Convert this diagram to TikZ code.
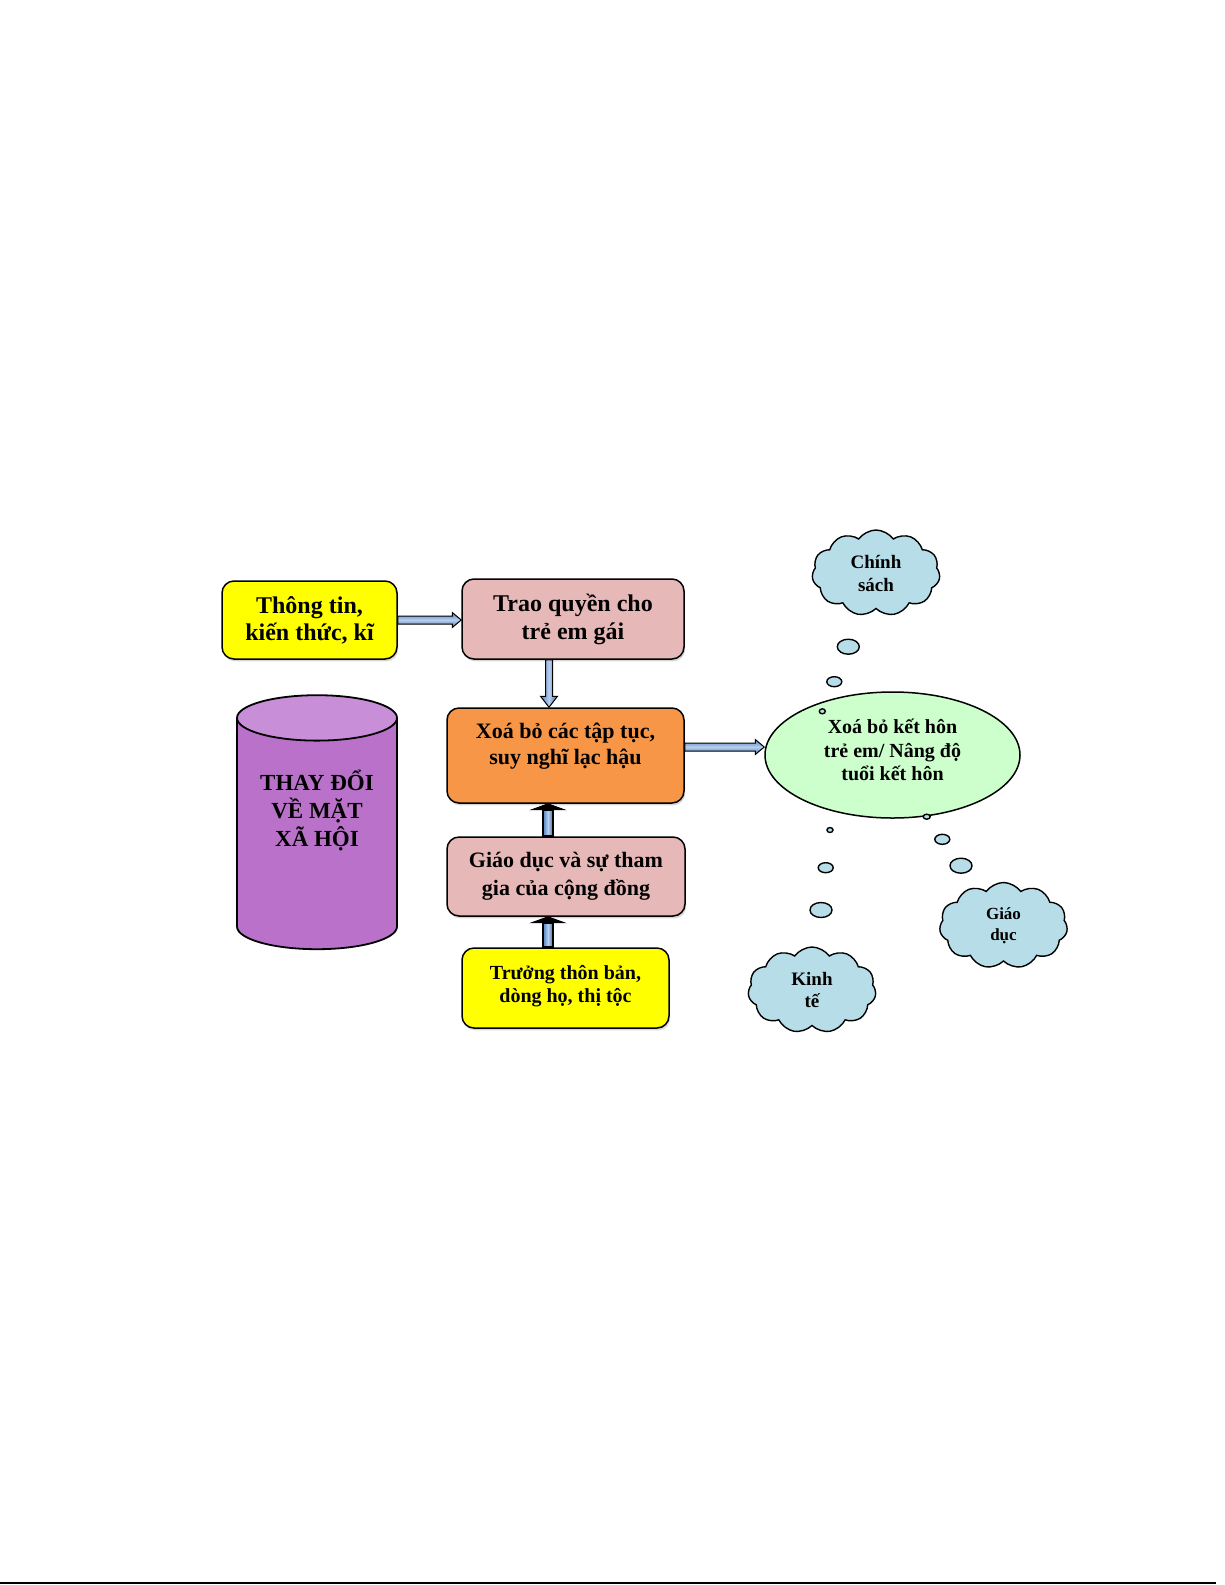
\documentclass[tikz,border=0pt]{standalone}
\usepackage{fontspec}
\setmainfont{Liberation Serif}
\usetikzlibrary{shapes.geometric,shapes.symbols,calc,shadows}

\definecolor{ttyellow}{HTML}{FFFF00}
\definecolor{ttpink}{HTML}{E6B9B8}
\definecolor{ttorange}{HTML}{F79646}
\definecolor{ttgreen}{HTML}{CCFFCC}
\definecolor{ttcloud}{HTML}{B7DEE8}
\definecolor{ttpurple}{HTML}{B971C9}
\definecolor{ttlilac}{HTML}{C98ED8}
\definecolor{ttblue}{HTML}{4F81BD}
\definecolor{ttlight}{HTML}{B8CFEE}

\begin{document}
\begin{tikzpicture}[x=0.5pt, y=-0.5pt,
    box/.style={draw, line width=0.75pt, rounded corners=6pt, align=center, inner sep=0pt,
      drop shadow={shadow xshift=0.6pt, shadow yshift=-1.2pt, opacity=0.3}},
    puff/.style={cloud, cloud puffs=11, cloud puff arc=110, cloud ignores aspect,
      minimum width=64pt, minimum height=43pt, inner sep=0pt, draw, line width=0.7pt,
      fill=ttcloud, align=center},
    bubble/.style={draw, line width=0.7pt, fill=ttcloud},
    bshaft/.store in=\bsh, bhead/.store in=\bhd, blen/.store in=\bln,
    bshaft=2pt, bhead=3.75pt, blen=4.5pt,
    alongarrow/.style={shift={(\tikztostart)}, rotate=\n2},
    bmeasure/.style={to path={let \p1=($(\tikztotarget)-(\tikztostart)$),
      \n1={veclen(\x1,\y1)}, \n2={atan2(\y1,\x1)} in #1}},
    bwhole/.style={bmeasure={([alongarrow]0pt,-\bsh) -- ([alongarrow]\n1-\bln,-\bsh)
      -- ([alongarrow]\n1-\bln,-\bhd) -- ([alongarrow]\n1,0pt) -- ([alongarrow]\n1-\bln,\bhd)
      -- ([alongarrow]\n1-\bln,\bsh) -- ([alongarrow]0pt,\bsh) -- cycle}},
    bstem/.style={bmeasure={([alongarrow]0pt,-\bsh) -- ([alongarrow]\n1-\bln,-\bsh)
      -- ([alongarrow]\n1-\bln,\bsh) -- ([alongarrow]0pt,\bsh) -- cycle}},
    bcap/.style={bmeasure={([alongarrow]\n1-\bln,-\bhd) -- ([alongarrow]\n1,0pt)
      -- ([alongarrow]\n1-\bln,\bhd) -- cycle}},
    harrow/.style={bwhole, draw=black, line width=0.5pt, line join=miter,
      top color=ttblue, bottom color=ttblue!85!black, middle color=ttlight},
    varrow/.style={bwhole, bshaft=1.75pt, bhead=4.25pt, blen=5.5pt, draw=black,
      line width=0.5pt, line join=miter, left color=ttblue,
      right color=ttblue!85!black, middle color=ttlight},
    upstem/.style={bstem, bshaft=2.5pt, blen=3pt, draw=black, line width=1pt,
      left color=ttblue, right color=ttblue!85!black, middle color=ttlight},
    uphead/.style={bcap, bhead=8.25pt, blen=3pt, fill=black}
  ]
  \fill[white] (0,0) rectangle (1225,1585);
  \useasboundingbox (0,0) rectangle (1225,1585);

  \node[box, fill=ttyellow, minimum width=87.5pt, minimum height=39pt,
    font=\bfseries\fontsize{12}{13.5}\selectfont] (thong) at (309.5,620)
    {Thông tin,\\kiến thức, kĩ};
  \node[box, fill=ttpink, minimum width=111pt, minimum height=40pt,
    font=\bfseries\fontsize{12}{14}\selectfont] (trao) at (573,619)
    {Trao quyền cho\\trẻ em gái};
  \node[box, fill=ttorange, minimum width=118.5pt, minimum height=47.5pt, text depth=12pt,
    font=\bfseries\fontsize{11}{13}\selectfont] (xoa) at (565.5,755.5)
    {Xoá bỏ các tập tục,\\suy nghĩ lạc hậu};
  \node[box, fill=ttpink, minimum width=119pt, minimum height=39.5pt,
    font=\bfseries\fontsize{11}{14}\selectfont] (giao) at (566,876.5)
    {Giáo dục và sự tham\\gia của cộng đồng};
  \node[box, fill=ttyellow, minimum width=103.5pt, minimum height=40pt, text depth=4pt,
    font=\bfseries\fontsize{10}{11.5}\selectfont] (truong) at (565.5,988)
    {Trưởng thôn bản,\\dòng họ, thị tộc};

  \node[cylinder, shape border rotate=90, draw, line width=0.9pt, aspect=0.4,
    minimum width=80pt, minimum height=127pt, inner sep=0pt, text depth=26pt,
    cylinder uses custom fill, cylinder body fill=ttpurple, cylinder end fill=ttlilac,
    align=center, font=\bfseries\fontsize{11.5}{14}\selectfont] (thaydoi) at (317,834)
    {THAY ĐỔI\\VỀ MẶT\\XÃ HỘI};

  \node[ellipse, draw, line width=0.75pt, fill=ttgreen, minimum width=127.5pt,
    minimum height=63pt, inner sep=0pt, align=center, text depth=5pt,
    font=\bfseries\fontsize{10}{11.75}\selectfont] (kethon) at (892.5,755)
    {Xoá bỏ kết hôn\\trẻ em/ Nâng độ\\tuổi kết hôn};

  \node[puff, font=\bfseries\fontsize{9.5}{11.5}\selectfont] (chinh) at (876,573) {Chính\\sách};
  \node[puff, font=\bfseries\fontsize{8.5}{10.5}\selectfont] (giaoduc) at (1003.5,925.5) {Giáo\\dục};
  \node[puff, font=\bfseries\fontsize{9.5}{11}\selectfont] (kinhte) at (812,990) {Kinh\\tế};

  \draw[bubble] (848.3,646.7) ellipse [x radius=5.5pt, y radius=3.75pt];
  \draw[bubble] (834.3,681.7) ellipse [x radius=3.75pt, y radius=2.5pt];
  \draw[bubble] (822.3,711.3) ellipse [x radius=1.5pt, y radius=1.25pt];
  \draw[bubble] (926.7,816.7) ellipse [x radius=1.75pt, y radius=1.25pt];
  \draw[bubble] (942.3,839.3) ellipse [x radius=3.75pt, y radius=2.5pt];
  \draw[bubble] (961,865.7) ellipse [x radius=5.5pt, y radius=3.75pt];
  \draw[bubble] (830,830) ellipse [x radius=1.5pt, y radius=1.25pt];
  \draw[bubble] (825.7,867.7) ellipse [x radius=3.75pt, y radius=2.5pt];
  \draw[bubble] (821,910) ellipse [x radius=5.5pt, y radius=3.75pt];

  \draw[harrow] (thong.east) to (thong.east -| trao.west);
  \draw[varrow] ([xshift=-12pt]trao.south) to ([xshift=-12pt]trao.south |- xoa.north);
  \draw[harrow] ([yshift=4.25pt]xoa.east) to ([yshift=4.25pt]xoa.east -| kethon.west);
  \draw[upstem] ([xshift=-9pt]giao.north) to ([xshift=-9pt]giao.north |- xoa.south);
  \draw[uphead] ([xshift=-9pt]giao.north) to ([xshift=-9pt]giao.north |- xoa.south);
  \draw[upstem] ([xshift=-9pt]giao.south |- truong.north) to ([xshift=-9pt]giao.south);
  \draw[uphead] ([xshift=-9pt]giao.south |- truong.north) to ([xshift=-9pt]giao.south);

  \draw[line width=1pt] (0,1583) -- (1216,1583);
\end{tikzpicture}
\end{document}
